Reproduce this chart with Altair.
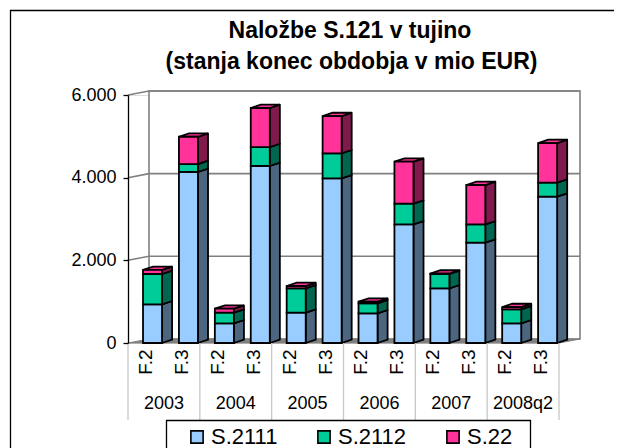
import altair as alt
import pandas as pd

title_lines = ["Naložbe S.121 v tujino", "(stanja konec obdobja v mio EUR)"]
years = ["2003", "2004", "2005", "2006", "2007", "2008q2"]
phases = ["F.2", "F.3"] * 6
series = ["S.2111", "S.2112", "S.22"]
s2111 = [936, 4137, 476, 4282, 733, 3984, 718, 2871, 1323, 2427, 476, 3539]
s2112 = [733, 193, 257, 459, 590, 605, 242, 499, 346, 444, 339, 339]
s22 = [100, 660, 97, 944, 56, 902, 40, 1016, 11, 951, 55, 960]
front_colors = ["#99CCFF", "#00CC99", "#FF3399"]
side_colors = ["#4D6680", "#006650", "#801A4D"]
yticks = [0, 2000, 4000, 6000]

FONT = "Liberation Sans"
BAR_L, BAR_W, BAR_D, BAR_H = 0.418, 0.53, 0.28, 80
WALL_D, WALL_H = 0.585, 97
GRAY = "#808080"
W, H = 431, 248

xs = alt.Scale(domain=[0, 12], nice=False, zero=False)
ys = alt.Scale(domain=[0, 6000], nice=False)
y_axis = alt.Axis(
    values=yticks, title=None, grid=False, domainColor="black", tickColor="black", tickSize=5,
    domainWidth=1.3, tickWidth=1.3, labelFont=FONT, labelFontSize=18, labelColor="black",
    labelPadding=7, zindex=1, labelExpr="replace(format(datum.value, ','), ',', '.')")
X = alt.X("x:Q", scale=xs, axis=None)
X2 = alt.X2("x2:Q")
Y = alt.Y("y:Q", scale=ys, axis=y_axis, stack=None)
Y2 = alt.Y2("y2:Q")
one = pd.DataFrame({"a": [0]})

segments = []
for i in range(12):
    base = 0
    for s, vals in enumerate([s2111, s2112, s22]):
        segments.append(dict(i=i, s=s, name=series[s], y=base, y2=base + vals[i],
                             x=i + BAR_L, x2=i + BAR_L + BAR_W))
        base += vals[i]
seg = pd.DataFrame(segments)

# walls
back = alt.Chart(pd.DataFrame([dict(x=WALL_D, x2=12 + WALL_D, y=WALL_H, y2=6000 + WALL_H)])).mark_rect(
    fill="white", stroke=GRAY, strokeWidth=1.6).encode(x=X, x2=X2, y=Y, y2=Y2)
floor = alt.Chart(pd.DataFrame([
    dict(x=0, y=0, y2=0), dict(x=WALL_D, y=0, y2=WALL_H),
    dict(x=12, y=0, y2=WALL_H), dict(x=12 + WALL_D, y=WALL_H, y2=WALL_H)])).mark_area(
    fill=GRAY, stroke=GRAY, strokeWidth=1, orient="vertical").encode(x=X, y=Y, y2=Y2)
grid_rows = []
for t in yticks[1:]:
    grid_rows += [dict(t=t, x=0, y=t), dict(t=t, x=WALL_D, y=t + WALL_H), dict(t=t, x=12 + WALL_D, y=t + WALL_H)]
grid = alt.Chart(pd.DataFrame(grid_rows)).mark_line(color=GRAY, strokeWidth=1.6).encode(
    x=X, y=Y, detail="t:N")

# side and top faces
layers = []
for s in range(3):
    rows = []
    for _, r in seg[seg.s == s].iterrows():
        rows += [dict(k=r.i, x=r.x2, y=r.y, y2=r.y2),
                 dict(k=r.i, x=r.x2 + BAR_D, y=r.y + BAR_H, y2=r.y2 + BAR_H)]
    layers.append(alt.Chart(pd.DataFrame(rows)).mark_area(
        fill=side_colors[s], stroke="black", strokeWidth=1.8, orient="vertical", strokeJoin="round").encode(
        x=X, y=Y, y2=Y2, detail="k:N"))
rows = []
for _, r in seg[seg.s == 2].iterrows():
    rows += [dict(k=r.i, x=r.x, y=r.y2, y2=r.y2),
             dict(k=r.i, x=r.x + BAR_D, y=r.y2, y2=r.y2 + BAR_H),
             dict(k=r.i, x=r.x2, y=r.y2, y2=r.y2 + BAR_H),
             dict(k=r.i, x=r.x2 + BAR_D, y=r.y2 + BAR_H, y2=r.y2 + BAR_H)]
tops = alt.Chart(pd.DataFrame(rows)).mark_area(
    fill=front_colors[2], stroke="black", strokeWidth=1.8, orient="vertical").encode(
    x=X, y=Y, y2=Y2, detail="k:N")

legend_box = alt.Chart(one).mark_rect(fill="white", stroke="black", strokeWidth=1.3).encode(
    x=alt.value(38.5), x2=alt.value(402.5), y=alt.value(325.5), y2=alt.value(400))

front = alt.Chart(seg).mark_rect(stroke="black", strokeWidth=1.8).encode(
    x=X, x2=X2, y=Y, y2=Y2,
    color=alt.Color("name:N", scale=alt.Scale(domain=series, range=front_colors), legend=alt.Legend(
        title=None, orient="none", legendX=58, legendY=331, direction="horizontal", columns=3,
        symbolType="square", symbolSize=150, symbolStrokeColor="black", symbolStrokeWidth=1.6,
        labelFont=FONT, labelFontSize=22, labelColor="black", labelOffset=3, columnPadding=35,
        padding=0)))

# category axis
sep = alt.Chart(pd.DataFrame({"x": list(range(0, 13, 2))})).mark_rule(color="#C8C8C8", strokeWidth=1.3).encode(
    x=X, y=alt.value(H), y2=alt.value(325))
phase_text = alt.Chart(pd.DataFrame({"x": [i + 0.5 for i in range(12)], "t": phases})).mark_text(
    angle=270, font=FONT, fontSize=19, color="black").encode(x=X, y=alt.value(H + 19), text="t:N")
year_text = alt.Chart(pd.DataFrame({"x": [2 * i + 1 for i in range(6)], "t": years})).mark_text(
    font=FONT, fontSize=18, color="black").encode(x=X, y=alt.value(H + 61), text="t:N")

frame = alt.Chart(one).mark_rect(fill=None, stroke="black", strokeWidth=1.3).encode(
    x=alt.value(-117.5), x2=alt.value(560), y=alt.value(-84.5), y2=alt.value(400))

title1 = alt.Chart(pd.DataFrame({"t": [title_lines[0]]})).mark_text(
    font=FONT, fontSize=23, fontWeight="bold", color="black", baseline="alphabetic").encode(
    x=alt.value(222), y=alt.value(-57), text="t:N")
title2 = alt.Chart(pd.DataFrame({"t": [title_lines[1]]})).mark_text(
    font=FONT, fontSize=23, fontWeight="bold", color="black", baseline="alphabetic").encode(
    x=alt.value(223.5), y=alt.value(-26), text="t:N")

chart = alt.layer(
    frame, back, floor, grid, *layers, tops, sep, phase_text, year_text, title1, title2, legend_box, front
).properties(
    width=W, height=H,
    autosize=alt.AutoSizeParams(type="none"),
    padding={"left": 120, "top": 87, "right": 55, "bottom": 105},
).configure_view(stroke=None).configure(background="white")

chart.save("out.html", embed_options={"renderer": "svg", "actions": False})
